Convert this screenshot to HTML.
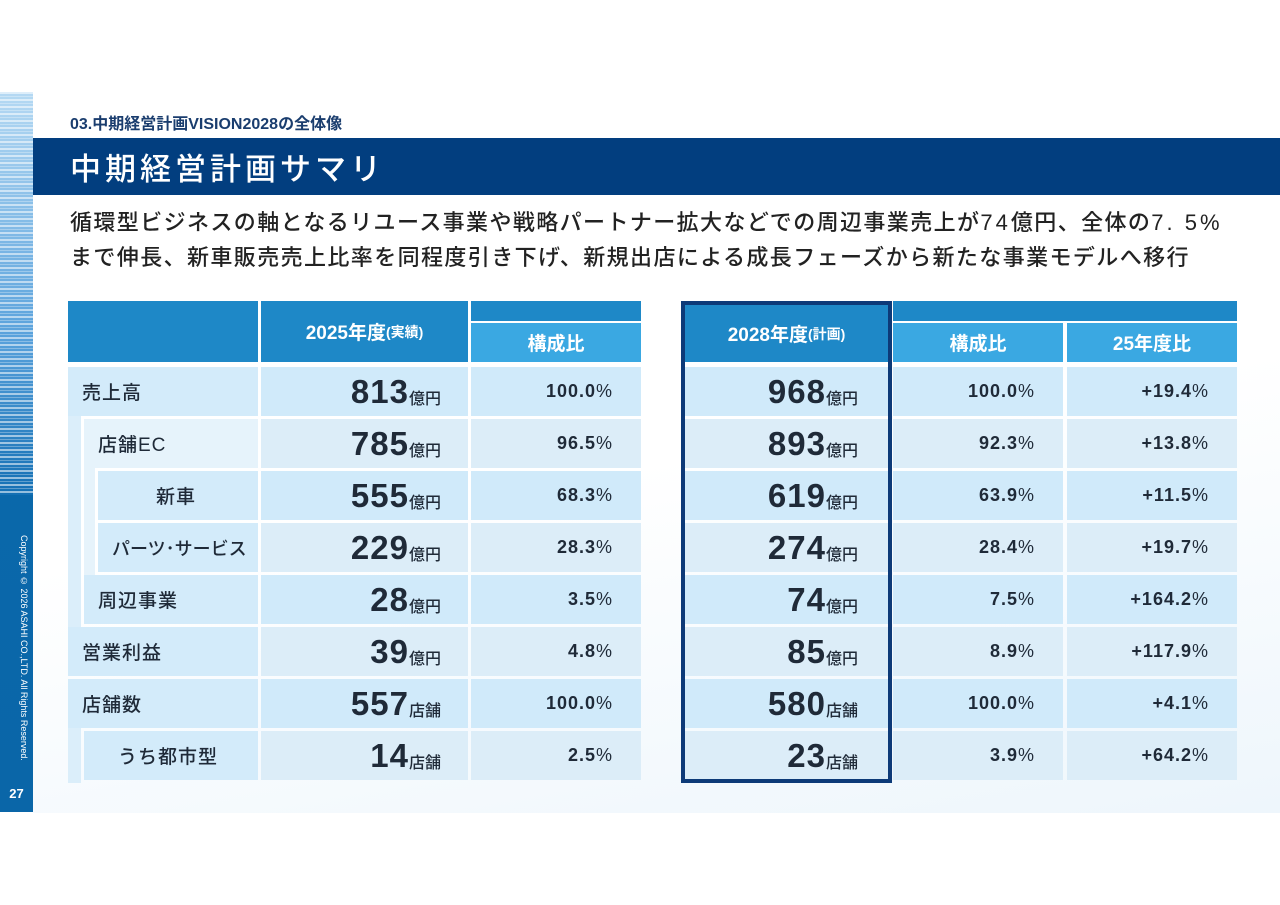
<!DOCTYPE html>
<html><head><meta charset="utf-8">
<style>
*{margin:0;padding:0;box-sizing:border-box}
body{width:1280px;height:905px;position:relative;background:#fff;font-family:"Liberation Sans","Noto Sans CJK JP",sans-serif;overflow:hidden;color:#1f2a38}
.abs{position:absolute}
#bg{left:33px;top:195px;width:1247px;height:618px;background:linear-gradient(170deg,#fff 45%,#eef6fc 100%)}
#sidebar{left:0;top:92px;width:33px;height:720px;background:linear-gradient(#0a6aae,#0a66a8)}
#stripes{left:0;top:92px;width:33px;height:403px;background:repeating-linear-gradient(180deg,rgba(255,255,255,.55) 0 2px,rgba(255,255,255,0) 2px 4px,rgba(255,255,255,.3) 4px 5px,rgba(255,255,255,0) 5px 7px),linear-gradient(#b5d9f3,#5aa2dc 60%,#1470b4)}
#copy{left:3px;top:535px;width:26px;height:230px;writing-mode:vertical-rl;color:#fff;font-size:9px;white-space:nowrap}
#pg{left:0;top:786px;width:33px;text-align:center;color:#fff;font-weight:bold;font-size:13px}
#sub{left:70px;top:110px;font-size:16px;font-weight:bold;color:#1a3d6e}
#band{left:33px;top:138px;width:1247px;height:57px;background:#023e7f}
#title{left:70px;top:144px;color:#fff;font-size:31px;letter-spacing:4px;font-weight:500}
.lead{left:70px;font-size:22px;color:#222;font-weight:500;white-space:nowrap;letter-spacing:1.4px}
.c{position:absolute;display:flex;align-items:center;white-space:nowrap}
.hd{background:#1e88c7;color:#fff;font-weight:bold;justify-content:center;font-size:19px}
.hs{background:#3aa8e2;color:#fff;font-weight:bold;justify-content:center;font-size:19px}
.d{background:#d0eafa}
.lab{font-size:19px;font-weight:500;padding-left:14px;letter-spacing:1px}
.val{justify-content:flex-end;padding-right:27px;font-weight:bold}
.val b{font-size:33px;letter-spacing:1px}.val span{font-size:16px;font-weight:500;margin-top:10px}
.pct{justify-content:flex-end;padding-right:28px;font-weight:bold;font-size:18px;letter-spacing:1px}
#frame{left:681px;top:301px;width:211px;height:482px;border:4px solid #0d3a78}
</style></head><body>
<div class="abs" id="bg"></div>
<div class="abs" id="sidebar"></div>
<div class="abs" id="stripes"></div>
<div class="abs" id="copy">Copyright © 2026 ASAHI CO.,LTD. All Rights Reserved.</div>
<div class="abs" id="pg">27</div>
<div class="abs" id="sub">03.中期経営計画VISION2028の全体像</div>
<div class="abs" id="band"></div>
<div class="abs" id="title">中期経営計画サマリ</div>
<div class="abs lead" style="top:205px">循環型ビジネスの軸となるリユース事業や戦略パートナー拡大などでの周辺事業売上が<span style="letter-spacing:3px">74</span>億円、全体の<span style="letter-spacing:3px">7. 5%</span></div>
<div class="abs lead" style="top:240px">まで伸長、新車販売売上比率を同程度引き下げ、新規出店による成長フェーズから新たな事業モデルへ移行</div>
<div id="tbl"></div>
<script>
const labels=["売上高","店舗EC","新車","パーツ･サービス","周辺事業","営業利益","店舗数","うち都市型"];
const indent=[0,1,2,2,1,0,0,1];
const units=["億円","億円","億円","億円","億円","億円","店舗","店舗"];
const v2025=[813,785,555,229,28,39,557,14];
const r2025=["100.0","96.5","68.3","28.3","3.5","4.8","100.0","2.5"];
const v2028=[968,893,619,274,74,85,580,23];
const r2028=["100.0","92.3","63.9","28.4","7.5","8.9","100.0","3.9"];
const g25=["+19.4","+13.8","+11.5","+19.7","+164.2","+117.9","+4.1","+64.2"];
const T=document.getElementById('tbl');
function cell(cls,x,y,w,h,html,name,bg){const e=document.createElement('div');e.className='c '+cls;e.style.left=x+'px';e.style.top=y+'px';e.style.width=w+'px';e.style.height=h+'px';if(bg)e.style.background=bg;e.innerHTML=html;


T.appendChild(e);return e;}
cell('hd',68,301,190,61,'','header-blank');
cell('hd',261,301,207,61,'2025年度<small style="font-size:14px">(実績)</small>','header-2025');
cell('hd',471,301,170,20,'','header-top-left');
cell('hs',471,323,170,39,'構成比','header-ratio-2025');
cell('hd',685,305,203,57,'2028年度<small style="font-size:14px">(計画)</small>','header-2028');
cell('hd',893,301,344,20,'','header-top-right');
cell('hs',893,323,170,39,'構成比','header-ratio-2028');
cell('hs',1067,323,170,39,'25年度比','header-growth');
const rowTop=367,pitch=52,rh=49;
labels.forEach((l,i)=>{
  const y=rowTop+i*pitch;
  const ind=indent[i];
  const lx=ind==0?68:(ind==1?84:98);
  if(ind>=1)cell('d',68,y-3,13,rh+6,'','indent-strip',"#dbeefa");
  if(ind==2)cell('d',84,y-3,11,rh+6,'','indent-strip-2',"#e6f3fb");
  const lc=cell('d lab',lx,y,258-lx,rh,l,'row-label',i==1?'#e6f3fb':'#d3ebfa');
  lc.style.paddingLeft=(i==2?58:14)+'px';
  if(i==3){lc.style.letterSpacing='0';lc.style.fontSize='18px';}
  if(i==7)lc.style.paddingLeft='34px';
  const bg=i%2?'#dcedf8':'#d0eafa';
  cell('d val',261,y,207,rh,'<b>'+v2025[i]+'</b><span>'+units[i]+'</span>','value-2025',bg);
  cell('d pct',471,y,170,rh,r2025[i]+'<span style="font-weight:500">%</span>','ratio-2025',bg);
  cell('d val',685,y,203,rh,'<b>'+v2028[i]+'</b><span>'+units[i]+'</span>','value-2028',bg).style.paddingRight='30px';
  cell('d pct',893,y,170,rh,r2028[i]+'<span style="font-weight:500">%</span>','ratio-2028',bg);
  cell('d pct',1067,y,170,rh,g25[i]+'<span style="font-weight:500">%</span>','growth-vs-2025',bg);
});
const f=document.createElement('div');f.className='abs';f.id='frame';


T.appendChild(f);
</script>
</body></html>
